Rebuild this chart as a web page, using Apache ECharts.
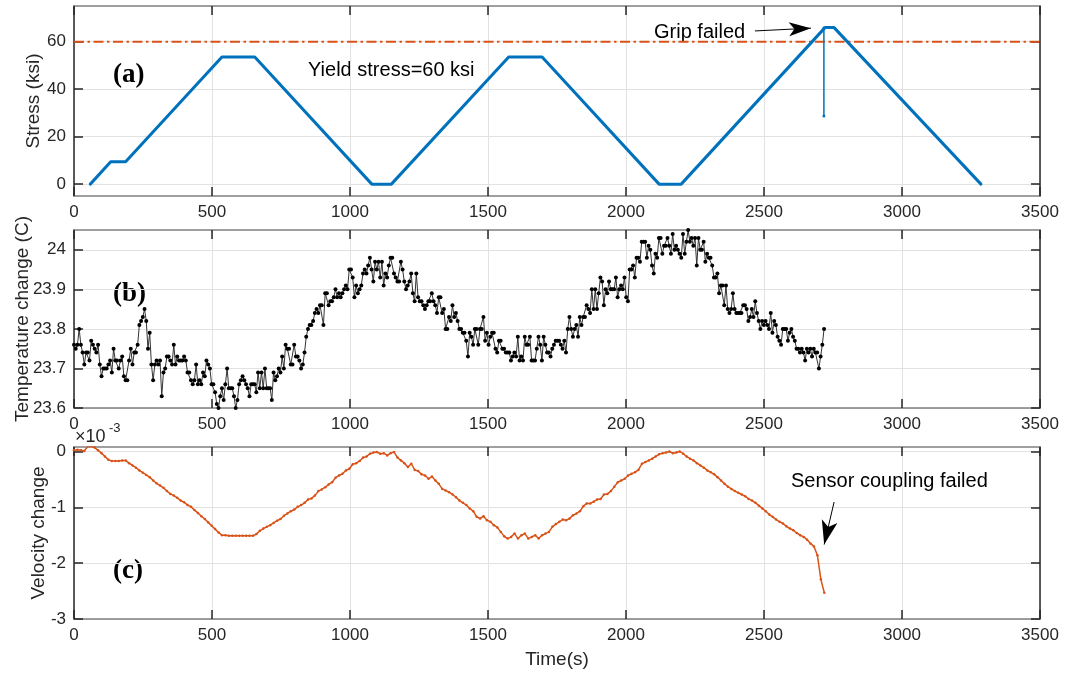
<!DOCTYPE html>
<html><head><meta charset="utf-8">
<script src="https://cdn.jsdelivr.net/npm/echarts@6/dist/echarts.min.js"></script>
<style>html,body{margin:0;padding:0;background:#fff}#c{width:1069px;height:676px}</style>
</head><body><div id="c"></div>
<script>
// ---- Data ----
const timeMin = 0, timeMax = 3500, timeInterval = 500;

// (a) stress vertices (time s, ksi)
const stressT = [59,133,187,536,655,1079,1150,1575,1696,2120,2200,2721,2754,3286];
const stressV = [0,9.4,9.4,53.5,53.5,0,0,53.5,53.5,0,0,65.9,65.9,0];
const dipT = [2717,2717];
const dipV = [65.7,28.7];
const yieldT = [0,3500];
const yieldV = [60,60];
const stressTicks = [0,20,40,60];

// (b) temperature (C), sampled every tempStep seconds from t=0
const tempStep = 6.233;
const tempValues = [
23.76,23.75,23.76,23.80,23.76,23.74,23.71,23.74,23.74,23.72,
23.77,23.76,23.75,23.74,23.76,23.71,23.68,23.70,23.70,23.70,
23.71,23.72,23.69,23.75,23.72,23.72,23.70,23.72,23.73,23.68,
23.67,23.67,23.72,23.75,23.71,23.74,23.74,23.76,23.81,23.82,
23.83,23.85,23.82,23.75,23.79,23.71,23.67,23.71,23.72,23.71,
23.72,23.63,23.69,23.70,23.73,23.73,23.72,23.71,23.76,23.71,
23.73,23.72,23.72,23.72,23.73,23.72,23.69,23.69,23.67,23.66,
23.67,23.71,23.66,23.67,23.66,23.69,23.68,23.72,23.71,23.70,
23.66,23.66,23.64,23.61,23.60,23.63,23.65,23.62,23.66,23.70,
23.65,23.65,23.65,23.63,23.60,23.62,23.66,23.67,23.68,23.67,
23.66,23.65,23.63,23.66,23.66,23.66,23.64,23.69,23.65,23.69,
23.65,23.70,23.65,23.65,23.65,23.62,23.69,23.67,23.68,23.70,
23.69,23.73,23.70,23.76,23.75,23.75,23.71,23.71,23.76,23.73,
23.73,23.72,23.70,23.71,23.74,23.78,23.80,23.81,23.81,23.82,
23.84,23.85,23.84,23.86,23.86,23.81,23.89,23.89,23.86,23.87,
23.87,23.88,23.90,23.88,23.89,23.88,23.89,23.90,23.91,23.90,
23.95,23.95,23.93,23.88,23.91,23.89,23.90,23.91,23.94,23.95,
23.94,23.96,23.98,23.95,23.92,23.97,23.95,23.97,23.93,23.97,
23.91,23.94,23.93,23.96,23.98,23.98,23.94,23.93,23.92,23.92,
23.97,23.95,23.92,23.90,23.91,23.92,23.94,23.89,23.87,23.94,
23.88,23.87,23.87,23.86,23.85,23.86,23.87,23.87,23.89,23.87,
23.86,23.84,23.88,23.88,23.84,23.85,23.80,23.80,23.83,23.82,
23.86,23.83,23.84,23.82,23.80,23.80,23.79,23.79,23.77,23.73,
23.79,23.78,23.76,23.80,23.80,23.76,23.80,23.80,23.83,23.77,
23.79,23.76,23.78,23.79,23.79,23.75,23.74,23.77,23.77,23.75,
23.75,23.74,23.74,23.74,23.72,23.73,23.74,23.73,23.78,23.72,
23.73,23.72,23.78,23.76,23.76,
23.78,23.72,23.72,23.72,23.75,23.78,23.76,23.72,23.78,23.76,
23.74,23.74,23.73,23.75,23.76,23.77,23.77,23.77,23.76,23.75,
23.77,23.74,23.80,23.83,23.80,23.78,23.80,23.81,23.78,23.83,
23.81,23.83,23.83,23.86,23.85,23.84,23.90,23.85,23.90,23.85,
23.89,23.93,23.92,23.86,23.90,23.89,23.92,23.90,23.90,23.90,
23.93,23.88,23.90,23.91,23.90,23.93,23.88,23.87,23.95,23.95,
23.96,23.93,23.98,23.98,23.97,24.02,24.02,24.02,23.98,24.01,
24.00,23.96,23.94,23.99,23.98,24.03,24.03,23.99,24.01,24.01,
24.03,24.01,23.99,24.04,24.00,24.01,24.00,23.99,23.98,24.04,
23.99,24.02,24.05,24.02,24.03,24.01,24.03,23.96,24.03,24.00,
24.00,24.02,23.97,23.99,23.98,23.98,23.96,23.93,23.93,23.94,
23.89,23.91,23.91,23.86,23.91,23.85,23.84,23.85,23.89,23.85,
23.84,23.84,23.84,23.84,23.86,23.86,23.85,23.82,23.83,23.85,
23.83,23.87,23.84,23.82,23.80,23.82,23.81,23.82,23.81,23.80,
23.84,23.79,23.82,23.81,23.78,23.77,23.76,23.80,23.80,23.80,
23.77,23.79,23.80,23.78,23.77,23.75,23.75,23.74,23.75,23.74,
23.72,23.75,23.74,23.75,23.73,23.75,23.74,23.74,23.70,23.73,
23.76,23.80
];
const tempTicks = [23.6,23.7,23.8,23.9,24.0];

// (c) velocity change (x1e-3), sampled every velStep seconds from t=0
const velStep = 12.47;
const velValues = [
0.02,0.03,0.02,0.01,0.09,0.09,0.07,0.02,-0.03,-0.09,
-0.15,-0.17,-0.17,-0.17,-0.16,-0.16,-0.21,-0.25,-0.29,-0.34,
-0.38,-0.42,-0.46,-0.52,-0.57,-0.61,-0.65,-0.71,-0.76,-0.79,
-0.83,-0.88,-0.91,-0.96,-0.99,-1.05,-1.10,-1.16,-1.21,-1.27,
-1.33,-1.39,-1.45,-1.50,-1.50,-1.51,-1.51,-1.51,-1.51,-1.51,
-1.51,-1.51,-1.51,-1.48,-1.42,-1.38,-1.35,-1.32,-1.28,-1.24,
-1.21,-1.15,-1.11,-1.07,-1.04,-0.99,-0.96,-0.92,-0.86,-0.84,
-0.79,-0.71,-0.68,-0.64,-0.59,-0.55,-0.47,-0.43,-0.40,-0.34,
-0.31,-0.23,-0.21,-0.17,-0.11,-0.09,-0.04,-0.02,-0.01,-0.04,
-0.03,-0.07,-0.03,-0.01,-0.11,-0.16,-0.21,-0.28,-0.22,-0.33,
-0.35,-0.41,-0.43,-0.49,-0.45,-0.52,-0.58,-0.67,-0.70,-0.73,
-0.77,-0.82,-0.88,-0.92,-0.96,-1.02,-1.07,-1.17,-1.20,-1.16,
-1.23,-1.26,-1.32,-1.36,-1.44,-1.52,-1.56,-1.53,-1.47,-1.56,
-1.50,-1.47,-1.56,-1.53,-1.50,-1.56,
-1.50,-1.47,-1.44,-1.35,-1.30,-1.26,-1.22,-1.23,-1.20,-1.14,
-1.11,-1.07,-0.98,-0.93,-0.93,-0.90,-0.86,-0.85,-0.77,-0.76,
-0.71,-0.63,-0.55,-0.52,-0.49,-0.43,-0.40,-0.37,-0.33,-0.22,
-0.19,-0.16,-0.13,-0.09,-0.05,-0.03,-0.02,0.00,-0.03,-0.02,
0.00,-0.04,-0.09,-0.13,-0.16,-0.21,-0.25,-0.29,-0.34,-0.37,
-0.41,-0.46,-0.52,-0.58,-0.63,-0.67,-0.71,-0.74,-0.77,-0.80,
-0.85,-0.88,-0.92,-0.97,-1.02,-1.07,-1.13,-1.17,-1.22,-1.26,
-1.29,-1.34,-1.38,-1.41,-1.46,-1.50,-1.53,-1.58,-1.65,-1.70,
-1.86,-2.29,-2.53
];
const velTicks = [-3,-2,-1,0];

// annotation arrows (data coords)
const gripArrow = [[2467,64.5],[2670,65.66]];
const sensorArrow = [[2754,-0.905],[2718,-1.666]];

// ---- Build ----
const FONT = 'Liberation Sans';
const TXT = '#262626';
const zip = (a,b) => a.map((v,i)=>[v,b[i]]);
const tempData = tempValues.map((v,i)=>[+(i*tempStep).toFixed(2), v]);
const velData = velValues.map((v,i)=>[+(i*velStep).toFixed(2), v]);

const grids = [
  {left:74, top:6, width:966, height:190},
  {left:74, top:230, width:966, height:178},
  {left:74, top:447, width:966, height:172}
];
const yCfg = [
  {min:-5, max:75, ticks:stressTicks, name:'Stress (ksi)', gap:31},
  {min:23.6, max:24.05, ticks:tempTicks, name:'Temperature change (C)', gap:42},
  {min:-3, max:0.08, ticks:velTicks, name:'Velocity change', gap:26}
];
const xAxes = [], yAxes = [];
grids.forEach((g,i)=>{
  xAxes.push({gridIndex:i, type:'value', min:timeMin, max:timeMax, interval:timeInterval,
    name: i===2 ? 'Time(s)' : '', nameLocation:'middle', nameGap:31, nameMoveOverlap:false,
    nameTextStyle:{fontSize:19, color:TXT, fontFamily:FONT},
    axisLine:{show:true, onZero:false, lineStyle:{color:'#808080', width:1.5}},
    axisTick:{show:true, inside:true, length:9, lineStyle:{color:TXT, width:1.5}},
    axisLabel:{show:true, margin:8, color:TXT, fontSize:17, fontFamily:FONT, formatter:v=>String(v)},
    splitLine:{show:true, lineStyle:{color:'#e2e2e2', width:1}}});
  xAxes.push({gridIndex:i, type:'value', position:'top', min:timeMin, max:timeMax, interval:timeInterval,
    axisLine:{show:true, onZero:false, lineStyle:{color:'#808080', width:1.5}},
    axisTick:{show:true, inside:true, length:9, lineStyle:{color:TXT, width:1.5}},
    axisLabel:{show:false}, splitLine:{show:false}});
  const c = yCfg[i];
  yAxes.push({gridIndex:i, type:'value', min:c.min, max:c.max,
    name:c.name, nameLocation:'middle', nameGap:c.gap, nameMoveOverlap:false,
    nameTextStyle:{fontSize:19, color:TXT, fontFamily:FONT},
    axisLine:{show:true, onZero:false, lineStyle:{color:TXT, width:1.5}},
    axisTick:{show:true, inside:true, length:9, customValues:c.ticks, lineStyle:{color:TXT, width:1.5}},
    axisLabel:{show:true, margin:8, color:TXT, fontSize:17, fontFamily:FONT, customValues:c.ticks,
      formatter:v=>String(+(+v).toFixed(2))},
    splitLine:{show:true, lineStyle:{color:'#e2e2e2', width:1}}});
  yAxes.push({gridIndex:i, type:'value', position:'right', min:c.min, max:c.max,
    axisLine:{show:true, onZero:false, lineStyle:{color:TXT, width:1.5}},
    axisTick:{show:true, inside:true, length:9, customValues:c.ticks, lineStyle:{color:TXT, width:1.5}},
    axisLabel:{show:false}, splitLine:{show:false}});
});

const arrowLine = (pts, size) => ({
  silent:true, animation:false, symbol:['none','arrow'], symbolSize:size,
  label:{show:false}, emphasis:{disabled:true},
  lineStyle:{color:'#000', width:1, type:'solid'},
  itemStyle:{color:'#000'},
  data:[[{coord:pts[0]},{coord:pts[1]}]]
});

const option = {
  animation:false,
  backgroundColor:'#fff',
  grid:grids, xAxis:xAxes, yAxis:yAxes,
  series:[
    {type:'line', xAxisIndex:0, yAxisIndex:0, data:zip(yieldT,yieldV), showSymbol:false,
     lineStyle:{color:'#D95319', width:2, type:[10,3.5,2.5,3.5]}, z:3},
    {type:'line', xAxisIndex:0, yAxisIndex:0, data:zip(stressT,stressV), showSymbol:false,
     lineStyle:{color:'#0072BD', width:3, cap:'round', join:'round'}, z:4,
     markLine:arrowLine(gripArrow,[10.5,22])},
    {type:'line', xAxisIndex:0, yAxisIndex:0, data:zip(dipT,dipV), symbol:'circle', symbolSize:3,
     itemStyle:{color:'#0072BD'}, lineStyle:{color:'#0072BD', width:1.5}, z:4},
    {type:'line', xAxisIndex:2, yAxisIndex:2, data:tempData, symbol:'circle', symbolSize:4,
     itemStyle:{color:'#000'}, lineStyle:{color:'#333', width:1}, z:4},
    {type:'line', xAxisIndex:4, yAxisIndex:4, data:velData, symbol:'circle', symbolSize:2.5,
     itemStyle:{color:'#D95319'}, lineStyle:{color:'#D95319', width:1.5}, z:4,
     markLine:arrowLine(sensorArrow,[12,24])}
  ],
  graphic:[
    {type:'text', left:113, top:62, style:{text:'(a)', font:'bold 27px "Liberation Serif"', fill:'#000'}},
    {type:'text', left:113, top:281, style:{text:'(b)', font:'bold 27px "Liberation Serif"', fill:'#000'}},
    {type:'text', left:113, top:558, style:{text:'(c)', font:'bold 27px "Liberation Serif"', fill:'#000'}},
    {type:'text', x:308, y:70, style:{text:'Yield stress=60 ksi', font:'20px "Liberation Sans"', fill:'#000', verticalAlign:'middle'}},
    {type:'text', x:654, y:32, style:{text:'Grip failed', font:'20px "Liberation Sans"', fill:'#000', verticalAlign:'middle'}},
    {type:'text', x:791, y:481, style:{text:'Sensor coupling failed', font:'20px "Liberation Sans"', fill:'#000', verticalAlign:'middle'}},
    {type:'text', x:75, y:437, style:{text:'×10', font:'18px "Liberation Sans"', fill:TXT, verticalAlign:'middle'}},
    {type:'text', x:109, y:428, style:{text:'-3', font:'13px "Liberation Sans"', fill:TXT, verticalAlign:'middle'}}
  ]
};
const chart = echarts.init(document.getElementById('c'), null, {renderer:'canvas'});
chart.setOption(option);
</script>
</body></html>
